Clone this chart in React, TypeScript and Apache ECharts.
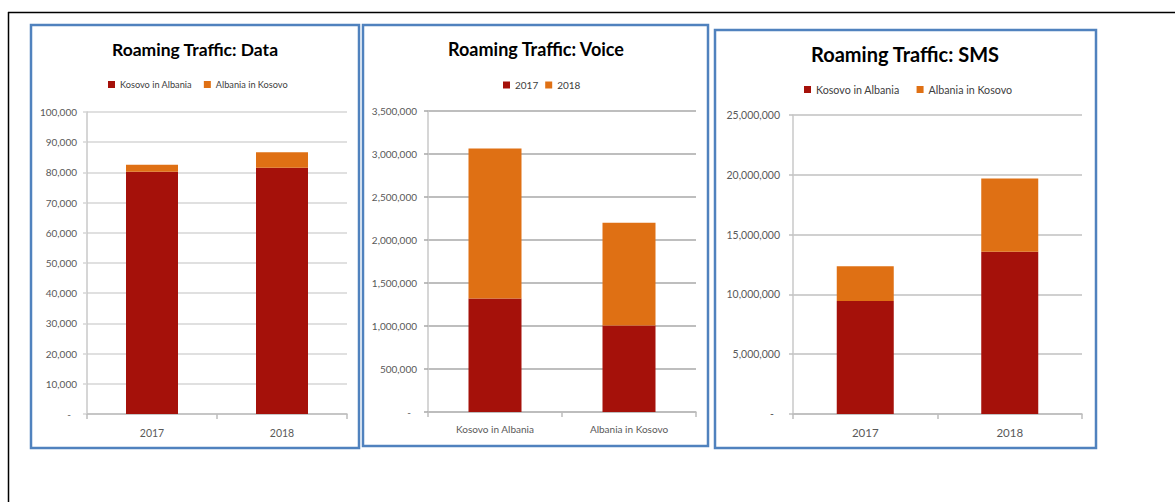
import React, { useEffect, useRef } from "react";
import * as echarts from "echarts";

const yearCats = ["2017", "2018"];
const voiceCats = ["Kosovo in Albania", "Albania in Kosovo"];

const dataKosovoInAlbania = [80200, 81500];
const dataAlbaniaInKosovo = [2300, 5200];

const voice2017 = [1320000, 1005000];
const voice2018 = [1745000, 1195000];

const smsKosovoInAlbania = [9450000, 13570000];
const smsAlbaniaInKosovo = [2900000, 6130000];

const RED = "#A5110A";
const ORANGE = "#DF7014";
const FONT = "Lato, 'Open Sans', sans-serif";

const fmt = (v: number) =>
  v === 0 ? "{z|-}" : v.toLocaleString("en-US");

export default function App() {
  const ref = useRef<HTMLDivElement>(null);
  useEffect(() => {
    if (!ref.current) return;
    const chart = echarts.init(ref.current, null, { renderer: "svg" });

    const mkY = (gi: number, max: number, interval: number, grid: string, fs: number, margin: number) => ({
      type: "value",
      gridIndex: gi,
      min: 0,
      max,
      interval,
      axisLine: { show: true, lineStyle: { color: "#c8c8c8", width: 1.5 } },
      axisTick: { show: true, length: 4, lineStyle: { color: grid, width: 1.5 } },
      splitLine: { show: true, lineStyle: { color: grid, width: 1.5 } },
      axisLabel: {
        color: "#595959",
        fontSize: fs,
        fontFamily: FONT,
        margin,
        formatter: fmt,
        rich: { z: { padding: [0, 6, 0, 0], color: "#595959", fontSize: fs, fontFamily: FONT } },
      },
    });
    const mkX = (gi: number, data: string[], fs: number, margin: number) => ({
      type: "category",
      gridIndex: gi,
      data,
      axisLine: { show: true, lineStyle: { color: "#bdbdbd", width: 1.5 } },
      axisTick: { show: true, length: 5, lineStyle: { color: "#bdbdbd", width: 1.5 } },
      axisLabel: { color: "#595959", fontSize: fs, fontFamily: FONT, margin },
    });

    chart.setOption({
      animation: false,
      backgroundColor: "#ffffff",
      title: [
        { text: "Roaming Traffic: Data", left: 195, top: 40, padding: 0, textAlign: "center", textStyle: { fontFamily: FONT, fontSize: 17.5, fontWeight: "bold", color: "#000" } },
        { text: "Roaming Traffic: Voice", left: 536, top: 40, padding: 0, textAlign: "center", textStyle: { fontFamily: FONT, fontSize: 18, fontWeight: "bold", color: "#000" } },
        { text: "Roaming Traffic: SMS", left: 905, top: 44, padding: 0, textAlign: "center", textStyle: { fontFamily: FONT, fontSize: 20, fontWeight: "bold", color: "#000" } },
      ],
      legend: [
        { data: ["Kosovo in Albania", "Albania in Kosovo"], left: 108, top: 80, padding: 0, icon: "rect", itemWidth: 7, itemHeight: 7, itemGap: 12, textStyle: { fontFamily: FONT, fontSize: 9.2, color: "#404040" }, selectedMode: false },
        { data: ["2017", "2018"], left: 503, top: 80, padding: 0, icon: "rect", itemWidth: 7, itemHeight: 7, itemGap: 7, textStyle: { fontFamily: FONT, fontSize: 10, color: "#404040" }, selectedMode: false },
        { data: ["Kosovo in Albania", "Albania in Kosovo"], left: 804, top: 84, padding: 0, icon: "rect", itemWidth: 7, itemHeight: 7, itemGap: 17, textStyle: { fontFamily: FONT, fontSize: 10.7, color: "#404040" }, selectedMode: false },
      ],
      grid: [
        { left: 87, top: 112, width: 260, height: 302 },
        { left: 428, top: 111, width: 268, height: 301 },
        { left: 793, top: 115, width: 289, height: 299 },
      ],
      xAxis: [mkX(0, yearCats, 10.5, 13), mkX(1, voiceCats, 10, 12), mkX(2, yearCats, 11.5, 12)],
      yAxis: [
        mkY(0, 100000, 10000, "#d6d6d6", 10, 10),
        mkY(1, 3500000, 500000, "#a8a8a8", 10, 11),
        mkY(2, 25000000, 5000000, "#c0c0c0", 10.5, 13),
      ],
      series: [
        { name: "Kosovo in Albania", type: "bar", stack: "d", xAxisIndex: 0, yAxisIndex: 0, barWidth: 52, data: dataKosovoInAlbania, itemStyle: { color: RED } },
        { name: "Albania in Kosovo", type: "bar", stack: "d", xAxisIndex: 0, yAxisIndex: 0, barWidth: 52, data: dataAlbaniaInKosovo, itemStyle: { color: ORANGE } },
        { name: "2017", type: "bar", stack: "v", xAxisIndex: 1, yAxisIndex: 1, barWidth: 53, data: voice2017, itemStyle: { color: RED } },
        { name: "2018", type: "bar", stack: "v", xAxisIndex: 1, yAxisIndex: 1, barWidth: 53, data: voice2018, itemStyle: { color: ORANGE } },
        { name: "Kosovo in Albania", type: "bar", stack: "s", xAxisIndex: 2, yAxisIndex: 2, barWidth: 57, data: smsKosovoInAlbania, itemStyle: { color: RED } },
        { name: "Albania in Kosovo", type: "bar", stack: "s", xAxisIndex: 2, yAxisIndex: 2, barWidth: 57, data: smsAlbaniaInKosovo, itemStyle: { color: ORANGE } },
      ],
      graphic: [
        { type: "line", shape: { x1: 8, y1: 12.5, x2: 1175, y2: 12.5 }, style: { stroke: "#000", lineWidth: 1.5 } },
        { type: "line", shape: { x1: 8.5, y1: 12, x2: 8.5, y2: 502 }, style: { stroke: "#000", lineWidth: 1.5 } },
        { type: "rect", shape: { x: 31, y: 25, width: 328, height: 423 }, style: { fill: "none", stroke: "#5082BE", lineWidth: 2.5 } },
        { type: "rect", shape: { x: 363, y: 25, width: 345, height: 421 }, style: { fill: "none", stroke: "#5082BE", lineWidth: 2.5 } },
        { type: "rect", shape: { x: 715, y: 30, width: 381, height: 418 }, style: { fill: "none", stroke: "#5082BE", lineWidth: 2.5 } },
      ],
    });
    return () => chart.dispose();
  }, []);
  return <div ref={ref} style={{ position: "fixed", left: 0, top: 0, width: 1175, height: 502 }} />;
}
